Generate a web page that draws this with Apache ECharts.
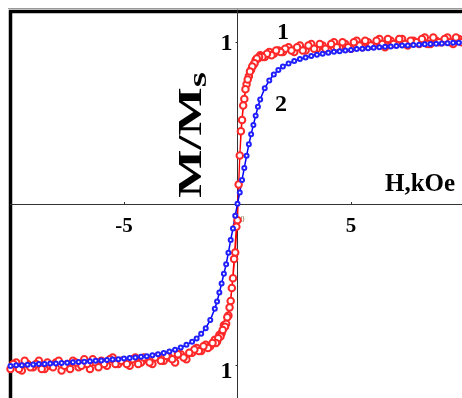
<!DOCTYPE html>
<html>
<head>
<meta charset="utf-8">
<script src="https://cdn.jsdelivr.net/npm/echarts@6/dist/echarts.min.js"></script>
<style>
  html, body { margin: 0; padding: 0; background: #fff; }
  #chart { width: 462px; height: 398px; }
</style>
</head>
<body>
<div id="chart"></div>
<script>
// field grid, kOe, increasing sweep (also used for sample 2)
const fieldH = [
  -10, -9.75, -9.5, -9.25, -9, -8.75, -8.5, -8.25, -8, -7.75, -7.5, -7.25, -7, -6.75, -6.5, -6.25,
  -6, -5.75, -5.5, -5.25, -5, -4.75, -4.5, -4.25, -4, -3.75, -3.5, -3.25, -3, -2.75, -2.5, -2.25,
  -2, -1.8, -1.6, -1.4, -1.2, -1, -0.9, -0.8, -0.7, -0.6, -0.5, -0.4, -0.3, -0.2, -0.1,
  0, 0.1, 0.2, 0.3, 0.4, 0.5, 0.6, 0.7, 0.8, 0.9, 1, 1.2, 1.4, 1.6, 1.8, 2,
  2.25, 2.5, 2.75, 3, 3.25, 3.5, 3.75, 4, 4.25, 4.5, 4.75, 5, 5.25, 5.5, 5.75, 6,
  6.25, 6.5, 6.75, 7, 7.25, 7.5, 7.75, 8, 8.25, 8.5, 8.75, 9, 9.25, 9.5, 9.75, 10
];

// field grid, kOe, decreasing sweep of sample 1
const fieldHDown = [
  -9.875, -9.625, -9.375, -9.125, -8.875, -8.625, -8.375, -8.125, -7.875, -7.625, -7.375, -7.125, -6.875, -6.625, -6.375, -6.125,
  -5.875, -5.625, -5.375, -5.125, -4.875, -4.625, -4.375, -4.125, -3.875, -3.625, -3.375, -3.125, -2.875, -2.625, -2.375, -2.125,
  -1.9, -1.7, -1.5, -1.3, -1.1, -0.95, -0.85, -0.75, -0.65, -0.55, -0.45, -0.35, -0.25, -0.15, -0.05,
  0.05, 0.15, 0.25, 0.35, 0.45, 0.55, 0.65, 0.75, 0.85, 0.95, 1.1, 1.3, 1.5, 1.7, 1.9, 2.1,
  2.375, 2.625, 2.875, 3.125, 3.375, 3.625, 3.875, 4.125, 4.375, 4.625, 4.875, 5.125, 5.375, 5.625, 5.875, 6.125,
  6.375, 6.625, 6.875, 7.125, 7.375, 7.625, 7.875, 8.125, 8.375, 8.625, 8.875, 9.125, 9.375, 9.625, 9.875, 10
];

// sample 1, increasing field
const redUp = [
  -1.02, -0.98, -1.03, -0.99, -1.01, -0.97, -1.02, -1.00, -0.98, -1.03, -0.99, -0.97, -1.01, -0.96, -1.02, -0.98,
  -0.97, -1.00, -0.95, -0.99, -0.97, -1.00, -0.95, -0.98, -0.96, -0.99, -0.94, -0.97, -0.95, -0.98, -0.93, -0.96,
  -0.92, -0.89, -0.91, -0.87, -0.88, -0.84, -0.85, -0.81, -0.80, -0.75, -0.74, -0.69, -0.60, -0.46, -0.30,
  -0.10, 0.30, 0.52, 0.65, 0.74, 0.79, 0.83, 0.86, 0.89, 0.90, 0.92, 0.91, 0.94, 0.93, 0.95, 0.94,
  0.97, 0.94, 0.98, 0.95, 0.99, 0.96, 0.98, 0.95, 1.00, 0.97, 0.99, 0.96, 1.01, 0.97, 1.00, 0.98,
  1.02, 0.97, 1.01, 0.99, 1.02, 0.98, 1.01, 0.99, 1.03, 0.99, 1.01, 1.00, 1.03, 0.99, 1.02, 1.01
];

// sample 1, decreasing field (listed from low to high field)
const redDown = [
  -0.99, -1.02, -0.97, -1.01, -0.99, -1.02, -0.98, -1.01, -0.97, -1.00, -1.02, -0.98, -1.00, -0.99, -0.96, -1.01,
  -0.99, -0.96, -0.99, -0.97, -0.99, -0.96, -0.99, -0.95, -0.98, -0.95, -0.97, -0.94, -0.96, -0.93, -0.95, -0.92,
  -0.90, -0.91, -0.88, -0.89, -0.86, -0.86, -0.83, -0.82, -0.78, -0.76, -0.70, -0.64, -0.52, -0.34, -0.14,
  0.12, 0.45, 0.61, 0.71, 0.77, 0.82, 0.85, 0.87, 0.90, 0.91, 0.91, 0.93, 0.92, 0.95, 0.94, 0.96,
  0.95, 0.97, 0.95, 0.98, 0.96, 0.99, 0.96, 0.99, 0.97, 1.00, 0.97, 1.00, 0.98, 1.01, 0.98, 1.01,
  0.99, 1.02, 0.99, 1.02, 0.99, 1.01, 1.00, 1.02, 0.99, 1.03, 1.00, 1.02, 1.00, 1.03, 1.00, 1.02
];

// sample 2
const blueM = [
  -1.002, -0.998, -0.997, -0.994, -0.993, -0.990, -0.990, -0.987, -0.986, -0.983, -0.982, -0.979, -0.978, -0.975, -0.973, -0.970,
  -0.968, -0.965, -0.962, -0.960, -0.956, -0.953, -0.949, -0.945, -0.941, -0.935, -0.929, -0.921, -0.912, -0.901, -0.888, -0.871,
  -0.852, -0.832, -0.803, -0.768, -0.718, -0.648, -0.603, -0.548, -0.492, -0.432, -0.372, -0.301, -0.222, -0.152, -0.072,
  0.002, 0.071, 0.149, 0.223, 0.298, 0.369, 0.431, 0.489, 0.546, 0.601, 0.646, 0.716, 0.764, 0.801, 0.829, 0.851,
  0.869, 0.884, 0.897, 0.906, 0.916, 0.923, 0.929, 0.936, 0.941, 0.945, 0.950, 0.953, 0.958, 0.960, 0.964, 0.966,
  0.970, 0.972, 0.975, 0.977, 0.980, 0.981, 0.984, 0.985, 0.988, 0.989, 0.992, 0.993, 0.995, 0.997, 0.998, 1.001
];

const xTicks = [-5, 0, 5];
const xTickLabels = ['-5', '0', '5'];
const yTicks = [-1, 1];
const yTickLabels = ['1', '1'];

const serif = '"Liberation Serif", "DejaVu Serif", serif';

const redLoop = fieldH.map((h, i) => [h, redUp[i]])
  .concat(fieldHDown.map((h, i) => [h, redDown[i]]).reverse());
const blueCurve = fieldH.map((h, i) => [h, blueM[i]]);

const chart = echarts.init(document.getElementById('chart'), null, { renderer: 'canvas' });

// plot box 10.5..464.5 x 10..398; zero lines at x=237.5, y=204
chart.setOption({
  animation: false,
  grid: { left: 10.5, top: 10, width: 454, height: 388, outerBoundsMode: 'none', containLabel: false },
  xAxis: {
    type: 'value',
    min: -10,
    max: 10,
    offset: -194,
    axisLine: { onZero: false, lineStyle: { color: '#333', width: 1 } },
    axisTick: { inside: true, length: 2, lineStyle: { color: '#333' }, customValues: [-5, 5] },
    splitLine: { show: false },
    axisLabel: {
      customValues: xTicks,
      margin: 12,
      formatter: (v) => {
        const t = xTickLabels[xTicks.indexOf(v)];
        return v === 0 ? '{z|' + t + '}' : '{b|' + t + '}';
      },
      rich: {
        b: { fontFamily: serif, fontWeight: 'bold', fontSize: 21, color: '#000' },
        z: { fontFamily: serif, fontSize: 8, color: '#8a6a3a', padding: [0, 0, 10, 10] }
      }
    }
  },
  yAxis: {
    type: 'value',
    min: -1.2,
    max: 1.2,
    offset: -227,
    axisLine: { onZero: false, lineStyle: { color: '#333', width: 1 } },
    axisTick: { length: 2, lineStyle: { color: '#333' }, customValues: yTicks },
    splitLine: { show: false },
    axisLabel: {
      customValues: yTicks,
      margin: 5,
      formatter: (v) => {
        const t = yTickLabels[yTicks.indexOf(v)];
        return v < 0 ? '{lo|' + t + '}' : '{hi|' + t + '}';
      },
      rich: {
        hi: { fontFamily: serif, fontWeight: 'bold', fontSize: 24, color: '#000', padding: [2, 0, 0, 0] },
        lo: { fontFamily: serif, fontWeight: 'bold', fontSize: 24, color: '#000', padding: [12, 0, 0, 0] }
      }
    }
  },
  series: [
    {
      name: '1',
      type: 'line',
      data: redLoop,
      symbol: 'emptyCircle',
      symbolSize: 6.5,
      lineStyle: { color: '#ff0000', width: 1.3 },
      itemStyle: { color: '#ff2828', borderColor: '#ff2828', borderWidth: 1 }
    },
    {
      name: '2',
      type: 'line',
      data: blueCurve,
      symbol: 'emptyCircle',
      symbolSize: 4,
      lineStyle: { color: '#0000ff', width: 1.5 },
      itemStyle: { color: '#2020ff', borderColor: '#2020ff', borderWidth: 1 }
    }
  ],
  graphic: [
    { type: 'line', shape: { x1: 8, y1: 8.5, x2: 462, y2: 8.5 }, style: { stroke: '#999', lineWidth: 1 } },
    { type: 'rect', shape: { x: 10.5, y: 11.5, width: 470, height: 400 }, style: { fill: 'none', stroke: '#000', lineWidth: 3.5 } },
    {
      type: 'text', x: 192, y: 135, rotation: Math.PI / 2, scaleX: 1.5,
      style: {
        text: '{a|M/M}{s|s}',
        align: 'center', verticalAlign: 'middle',
        rich: {
          a: { fontFamily: serif, fontWeight: 'bold', fontSize: 34, fill: '#000', lineHeight: 40 },
          s: { fontFamily: serif, fontWeight: 'bold', fontSize: 26, fill: '#000', lineHeight: 40, verticalAlign: 'bottom', padding: [8, 0, 0, 0] }
        }
      }
    },
    {
      type: 'text', x: 385, y: 185,
      style: { text: 'H,kOe', fontFamily: serif, fontWeight: 'bold', fontSize: 25, fill: '#000', align: 'left', verticalAlign: 'middle' }
    },
    {
      type: 'text', x: 283, y: 33,
      style: { text: '1', fontFamily: serif, fontWeight: 'bold', fontSize: 24, fill: '#000', align: 'center', verticalAlign: 'middle' }
    },
    {
      type: 'text', x: 281, y: 105,
      style: { text: '2', fontFamily: serif, fontWeight: 'bold', fontSize: 24, fill: '#000', align: 'center', verticalAlign: 'middle' }
    }
  ]
});
</script>
</body>
</html>
